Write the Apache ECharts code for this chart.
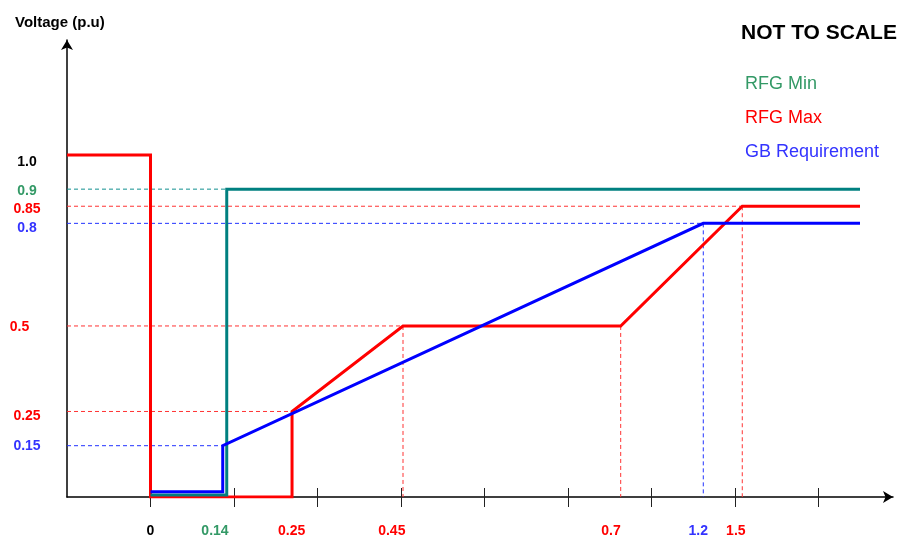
<!DOCTYPE html>
<html>
<head>
<meta charset="utf-8">
<script src="https://cdn.jsdelivr.net/npm/echarts@6/dist/echarts.min.js"></script>
<style>
html,body{margin:0;padding:0;background:#fff;}
#chart{width:903px;height:539px;}
</style>
</head>
<body>
<div id="chart"></div>
<script>
// Chart is "NOT TO SCALE": x values are schematic positions (one unit per axis tick).
const xTickLabels = ['0', '0.14', '0.25', '0.45', '0.7', '1.2', '1.5'];
const xTickLabelPos = [1.0, 1.772, 2.69, 3.89, 6.515, 7.56, 8.01];
const xTickLabelTone = ['k', 'g', 'r', 'r', 'r', 'b', 'r'];
const xTickPos = [1, 2, 3, 4, 5, 6, 7, 8, 9];

const yTickLabels = ['0.15', '0.25', '0.5', '0.8', '0.85', '0.9', '1.0'];
const yTickValues = [0.15, 0.25, 0.5, 0.8, 0.85, 0.9, 1.0];
const yTickLabelTone = ['b', 'r25', 'r5', 'b8', 'r85', 'g9', 'k1'];

const rfgMaxX = [0, 1.0, 1.0, 2.695, 2.695, 4.024, 6.631, 8.087, 9.497];
const rfgMaxY = [1.0, 1.0, 0, 0, 0.25, 0.5, 0.5, 0.85, 0.85];
const rfgMinX = [1.0, 1.913, 1.913, 9.497];
const rfgMinY = [0.006, 0.006, 0.9, 0.9];
const gbX = [1.0, 1.865, 1.865, 7.62, 9.497];
const gbY = [0.015, 0.015, 0.15, 0.8, 0.8];

const seriesNames = ['RFG Min', 'RFG Max', 'GB Requirement'];

const C = { teal: '#008080', sea: '#339966', red: '#ff0000', blue: '#0000ff', blueText: '#3333ff',
  redGuide: '#ff3333', blueGuide: '#2233ff', tealGuide: '#119090' };
const FONT = '"Liberation Sans", Arial, Helvetica, sans-serif';

function pts(xs, ys) { return xs.map((x, i) => [x, ys[i]]); }

function guide(data, color) {
  return { type: 'line', silent: true, symbol: 'none', z: 1, animation: false, color: color,
    itemStyle: { color: color },
    data: data,
    lineStyle: { color: color, width: 1, type: [4, 3], opacity: 1 } };
}
function hGuide(xs, ys, i, color) { return guide([[0, ys[i]], [xs[i], ys[i]]], color); }
function vGuide(xs, ys, i, color) { return guide([[xs[i], ys[i]], [xs[i], 0]], color); }

const base = { fontWeight: 'bold', fontSize: 14, fontFamily: FONT };
const rich = {
  k: Object.assign({ color: '#000' }, base),
  k1: Object.assign({ color: '#000', padding: [14, 0, 0, 0] }, base),
  g: Object.assign({ color: C.sea }, base),
  g9: Object.assign({ color: C.sea, padding: [3, 0, 0, 0] }, base),
  r: Object.assign({ color: C.red }, base),
  r85: Object.assign({ color: C.red, padding: [6, 0, 0, 0] }, base),
  r5: Object.assign({ color: C.red, padding: [3, 15, 0, 0] }, base),
  r25: Object.assign({ color: C.red, padding: [10, 0, 0, 0] }, base),
  b: Object.assign({ color: C.blueText }, base),
  b8: Object.assign({ color: C.blueText, padding: [10, 0, 0, 0] }, base)
};

const chart = echarts.init(document.getElementById('chart'), null, { renderer: 'canvas' });

const option = {
  animation: false,
  backgroundColor: '#fff',
  title: [
    { text: 'Voltage (p.u)', left: 10, top: 10,
      textStyle: { fontSize: 15, fontWeight: 'bold', color: '#000', fontFamily: FONT } },
    { text: 'NOT TO SCALE', left: 736, top: 18,
      textStyle: { fontSize: 21, fontWeight: 'bold', color: '#000', fontFamily: FONT } }
  ],
  legend: {
    orient: 'vertical', left: 734, top: 70, itemGap: 16,
    itemWidth: 0, itemHeight: 0, selectedMode: false,
    textStyle: { fontSize: 18, fontFamily: FONT },
    data: [
      { name: seriesNames[0], textStyle: { color: C.sea } },
      { name: seriesNames[1], textStyle: { color: C.red } },
      { name: seriesNames[2], textStyle: { color: C.blueText } }
    ]
  },
  grid: { left: 67, right: 10, top: 40, bottom: 42, containLabel: false },
  xAxis: [
    {
      type: 'value', min: 0, max: 9.892, position: 'bottom',
      axisLine: { show: true, onZero: false, symbol: ['none', 'arrow'], symbolSize: [9, 10],
        lineStyle: { color: '#000', width: 1.5 } },
      axisTick: { show: true, inside: false, length: 10, customValues: xTickPos,
        lineStyle: { color: '#222', width: 1 } },
      splitLine: { show: false },
      axisLabel: {
        show: true, margin: 27, customValues: xTickLabelPos,
        formatter: function (v) {
          for (let i = 0; i < xTickLabelPos.length; i++) {
            if (Math.abs(xTickLabelPos[i] - v) < 1e-6) return '{' + xTickLabelTone[i] + '|' + xTickLabels[i] + '}';
          }
          return '';
        },
        rich: rich
      }
    },
    {
      type: 'value', min: 0, max: 9.892, position: 'bottom', gridIndex: 0,
      axisLine: { show: false },
      axisTick: { show: true, inside: true, length: 9, customValues: xTickPos,
        lineStyle: { color: '#222', width: 1 } },
      splitLine: { show: false },
      axisLabel: { show: false }
    }
  ],
  yAxis: {
    type: 'value', min: 0, max: 1.336,
    axisLine: { show: true, onZero: false, symbol: ['none', 'arrow'], symbolSize: [9, 10],
      lineStyle: { color: '#000', width: 1.5 } },
    axisTick: { show: false },
    splitLine: { show: false },
    axisLabel: {
      show: true, margin: 40, align: 'center', customValues: yTickValues,
      formatter: function (v) {
        for (let i = 0; i < yTickValues.length; i++) {
          if (Math.abs(yTickValues[i] - v) < 1e-6) return '{' + yTickLabelTone[i] + '|' + yTickLabels[i] + '}';
        }
        return '';
      },
      rich: rich
    }
  },
  series: [
    hGuide(rfgMinX, rfgMinY, 2, C.tealGuide),
    hGuide(rfgMaxX, rfgMaxY, 4, C.redGuide),
    hGuide(rfgMaxX, rfgMaxY, 5, C.redGuide),
    hGuide(rfgMaxX, rfgMaxY, 7, C.redGuide),
    hGuide(gbX, gbY, 2, C.blueGuide),
    hGuide(gbX, gbY, 3, C.blueGuide),
    vGuide(rfgMaxX, rfgMaxY, 5, C.redGuide),
    vGuide(rfgMaxX, rfgMaxY, 6, C.redGuide),
    vGuide(rfgMaxX, rfgMaxY, 7, C.redGuide),
    vGuide(gbX, gbY, 3, C.blueGuide),
    { name: seriesNames[1], type: 'line', symbol: 'none', z: 3, color: C.red,
      data: pts(rfgMaxX, rfgMaxY),
      lineStyle: { color: C.red, width: 3, join: 'miter', cap: 'butt' } },
    { name: seriesNames[0], type: 'line', symbol: 'none', z: 4, color: C.teal,
      data: pts(rfgMinX, rfgMinY),
      lineStyle: { color: C.teal, width: 3, join: 'miter', cap: 'butt' } },
    { name: seriesNames[2], type: 'line', symbol: 'none', z: 5, color: C.blue,
      data: pts(gbX, gbY),
      lineStyle: { color: C.blue, width: 3, join: 'miter', cap: 'butt' } }
  ]
};

chart.setOption(option);
</script>
</body>
</html>
